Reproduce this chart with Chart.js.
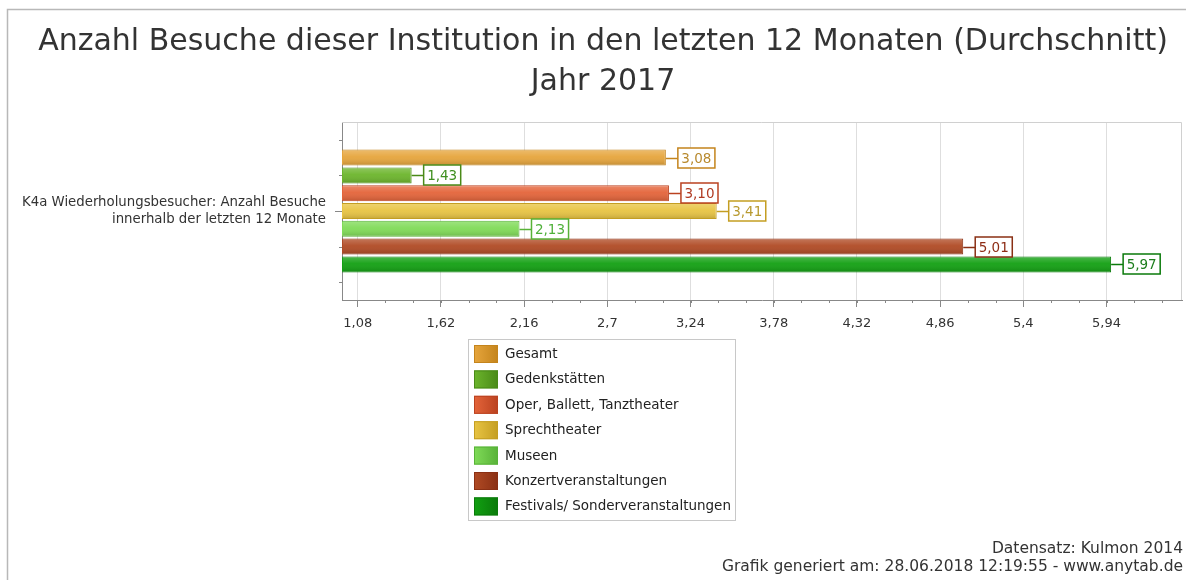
<!DOCTYPE html>
<html>
<head>
<meta charset="utf-8">
<script src="https://cdn.jsdelivr.net/npm/chart.js@4/dist/chart.umd.min.js"></script>
<style>
  body { margin: 0; background: #fff; }
  canvas { display: block; }
</style>
</head>
<body>
<canvas id="myChart" width="1186" height="580"></canvas>
<script>
// Daten
const categories = [['K4a Wiederholungsbesucher: Anzahl Besuche', 'innerhalb der letzten 12 Monate']];
const seriesNames = ['Gesamt', 'Gedenkstätten', 'Oper, Ballett, Tanztheater', 'Sprechtheater', 'Museen', 'Konzertveranstaltungen', 'Festivals/ Sonderveranstaltungen'];
const seriesValues = [3.08, 1.43, 3.10, 3.41, 2.13, 5.01, 5.97];
const xTicks = [1.08, 1.62, 2.16, 2.7, 3.24, 3.78, 4.32, 4.86, 5.4, 5.94];
const titleLines = ['Anzahl Besuche dieser Institution in den letzten 12 Monaten (Durchschnitt)', 'Jahr 2017'];
const footerLines = ['Datensatz: Kulmon 2014', 'Grafik generiert am: 28.06.2018 12:19:55 - www.anytab.de'];

// Farben
const fillColors = ['#E6A53C', '#6CB52C', '#E4643A', '#E8C443', '#80DB58', '#B04A24', '#12A012'];
const borderColors = ['#C4841C', '#4A8A18', '#BA4220', '#C49E22', '#58B238', '#8A3014', '#0A7A0A'];
const labelColors = ['#B88A2E', '#3F8F1F', '#B03A22', '#B89A30', '#4FB03A', '#8E2E16', '#1D7E1D'];

const FONT = '"DejaVu Sans", Verdana, sans-serif';
const fmt = v => String(v).replace('.', ',');

let datasets = seriesNames.map((name, i) => ({
    label: name,
    data: [seriesValues[i]],
    backgroundColor: fillColors[i],
    borderColor: borderColors[i],
    borderWidth: 1,
    borderSkipped: false,
    categoryPercentage: 0.7,
    barPercentage: 0.9
}));

// Hintergrund, Rahmen, Titel, Fußzeile
const framePlugin = {
    id: 'frame',
    beforeDraw(chart) {
        const c = chart.ctx;
        c.save();
        c.fillStyle = '#fff';
        c.fillRect(0, 0, chart.width, chart.height);
        c.strokeStyle = '#b8b8b8';
        c.lineWidth = 1.5;
        c.beginPath();
        c.moveTo(7.5, chart.height);
        c.lineTo(7.5, 9.5);
        c.lineTo(chart.width, 9.5);
        c.stroke();

        c.fillStyle = '#333';
        c.textAlign = 'center';
        c.textBaseline = 'middle';
        c.font = '30px ' + FONT;
        c.fillText(titleLines[0], 603, 42);
        c.fillText(titleLines[1], 603, 82);

        c.textAlign = 'right';
        c.font = '15.5px ' + FONT;
        c.fillText(footerLines[0], 1183, 549);
        c.fillText(footerLines[1], 1183, 567);
        c.restore();
    },
    beforeDatasetsDraw(chart) {
        const c = chart.ctx, a = chart.chartArea;
        c.save();
        c.strokeStyle = '#d0d0d0';
        c.lineWidth = 1;
        c.beginPath();
        c.moveTo(a.left, a.top + 0.5);
        c.lineTo(a.right - 0.5, a.top + 0.5);
        c.lineTo(a.right - 0.5, a.bottom);
        c.stroke();

        // kleine Striche
        const xs = chart.scales.x, ys = chart.scales.y;
        c.strokeStyle = '#888';
        c.beginPath();
        const step = (xTicks[1] - xTicks[0]) / 3;
        for (let v = xTicks[0] + step; v < xs.max; v += step) {
            const px = Math.round(xs.getPixelForValue(v)) + 0.5;
            c.moveTo(px, a.bottom);
            c.lineTo(px, a.bottom + 3);
        }
        [0.1, 0.3, 0.7, 0.9].forEach(f => {
            const py = Math.round(ys.top + f * (ys.bottom - ys.top)) + 0.5;
            c.moveTo(a.left, py);
            c.lineTo(a.left - 3, py);
        });
        c.stroke();
        c.restore();
    }
};

// Verlauf auf Balken + Wertbeschriftung
const labelPlugin = {
    id: 'valueLabels',
    afterDatasetsDraw(chart) {
        const c = chart.ctx, a = chart.chartArea;
        c.save();
        chart.data.datasets.forEach((ds, i) => {
            const el = chart.getDatasetMeta(i).data[0];
            const h = el.height;
            const top = el.y - h / 2;
            const left = Math.max(el.base, a.left);
            const g = c.createLinearGradient(0, top, 0, top + h);
            g.addColorStop(0, 'rgba(255,255,255,0.25)');
            g.addColorStop(0.45, 'rgba(255,255,255,0.05)');
            g.addColorStop(1, 'rgba(0,0,0,0.16)');
            c.fillStyle = g;
            c.fillRect(left + 1, top + 1, el.x - left - 2, h - 2);
        });

        c.font = '13.5px ' + FONT;
        c.textBaseline = 'middle';
        c.textAlign = 'center';
        chart.data.datasets.forEach((ds, i) => {
            const el = chart.getDatasetMeta(i).data[0];
            const txt = fmt(ds.data[0].toFixed(2));
            const w = c.measureText(txt).width + 7;
            const bh = 20;
            const x0 = el.x + 12;
            const y = Math.round(el.y);
            c.strokeStyle = borderColors[i];
            c.lineWidth = 1.5;
            c.beginPath();
            c.moveTo(el.x, y + 0.5);
            c.lineTo(x0, y + 0.5);
            c.stroke();
            c.fillStyle = '#fff';
            c.fillRect(x0, y - bh / 2, w, bh);
            c.strokeRect(x0, y - bh / 2, w, bh);
            c.fillStyle = labelColors[i];
            c.fillText(txt, x0 + w / 2, y + 1);
        });
        c.restore();
    }
};

// Legende
const legendPlugin = {
    id: 'boxLegend',
    afterDraw(chart) {
        const c = chart.ctx;
        const bx = 468.5, by = 339.5, bw = 267, bh = 181;
        c.save();
        c.strokeStyle = '#c8c8c8';
        c.lineWidth = 1;
        c.strokeRect(bx, by, bw, bh);
        c.font = '13.5px ' + FONT;
        c.textBaseline = 'middle';
        c.textAlign = 'left';
        chart.data.datasets.forEach((ds, i) => {
            const y = 345 + i * 25.4;
            const g = c.createLinearGradient(474, 0, 498, 0);
            g.addColorStop(0, ds.backgroundColor);
            g.addColorStop(1, ds.borderColor);
            c.fillStyle = g;
            c.fillRect(474, y, 24, 18);
            c.strokeStyle = ds.borderColor;
            c.strokeRect(474.5, y + 0.5, 23, 17);
            c.fillStyle = '#222';
            c.fillText(ds.label, 505, y + 9.5);
        });
        c.restore();
    }
};

let ctx = document.getElementById('myChart').getContext('2d');
let chart = new Chart(ctx, {
    type: 'bar',
    data: {
        labels: categories,
        datasets: datasets
    },
    options: {
        indexAxis: 'y',
        responsive: false,
        animation: false,
        layout: { padding: { top: 122, right: 4, bottom: 250, left: 0 } },
        plugins: {
            legend: { display: false },
            title: { display: false },
            tooltip: { enabled: false }
        },
        scales: {
            x: {
                type: 'linear',
                min: 0.978,
                max: 6.43,
                afterFit: s => { s.height = 30; },
                afterBuildTicks: s => { s.ticks = xTicks.map(v => ({ value: v })); },
                ticks: {
                    callback: v => fmt(v),
                    color: '#333',
                    font: { family: FONT, size: 13 },
                    padding: 9,
                    maxRotation: 0,
                    autoSkip: false
                },
                grid: { color: '#dedede', tickColor: '#888', tickLength: 7 },
                border: { color: '#888' }
            },
            y: {
                type: 'category',
                afterFit: s => { s.width = 342; },
                ticks: {
                    color: '#333',
                    font: { family: FONT, size: 13.3, lineHeight: 1.3 },
                    padding: 9
                },
                grid: { offset: false, drawOnChartArea: false, tickColor: '#888', tickLength: 7 },
                border: { color: '#888' }
            }
        }
    },
    plugins: [framePlugin, labelPlugin, legendPlugin]
});
</script>
</body>
</html>
